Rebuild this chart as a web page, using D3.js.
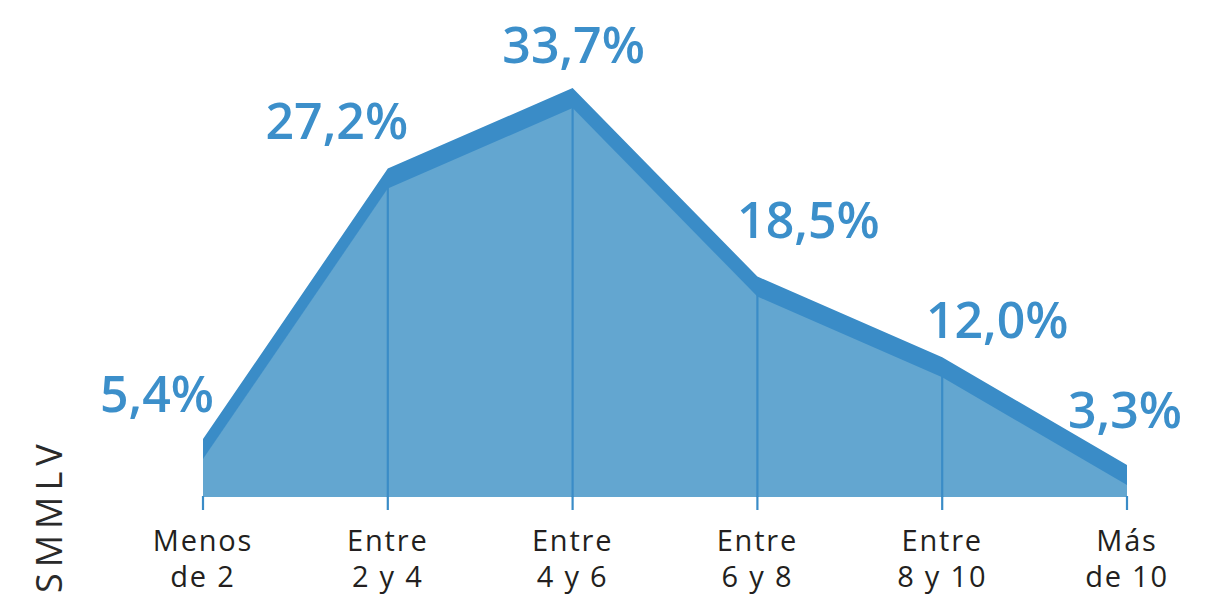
<!DOCTYPE html>
<html>
<head>
<meta charset="utf-8">
<script src="https://cdn.jsdelivr.net/npm/d3@7"></script>
<style>
  html, body { margin: 0; padding: 0; background: #ffffff; }
  svg { display: block; }
</style>
</head>
<body>
<svg id="chart" width="1225" height="596"></svg>
<script>
// ---- data ----
const categories = ["Menos de 2", "Entre 2 y 4", "Entre 4 y 6", "Entre 6 y 8", "Entre 8 y 10", "Más de 10"];
const categoryLines = [["Menos", "de 2"], ["Entre", "2 y 4"], ["Entre", "4 y 6"], ["Entre", "6 y 8"], ["Entre", "8 y 10"], ["Más", "de 10"]];
const values = [5.4, 27.2, 33.7, 18.5, 12.0, 3.3];
const valueLabels = ["5,4%", "27,2%", "33,7%", "18,5%", "12,0%", "3,3%"];
const axisTitle = "SMMLV";

// ---- layout ----
const baselineY = 497;
const bandThickness = 20;
const labelDx = [-46, -51, 1, 51, 55, -2];
const labelDy = [-27, -30, -25, -39, -19, -37];

const svg = d3.select("#chart");

const x = d3.scalePoint().domain(categories).range([203, 1127]);
const y = d3.scaleLinear().domain([0, 33.7]).range([506, 88]);

const data = categories.map((c, i) => ({ c, v: values[i], i }));

const lightBlue = "#63a6d0";
const darkBlue = "#3a8cc7";
const labelBlue = "#3c8fca";

// fill area
const fillArea = d3.area()
  .x(d => x(d.c))
  .y0(baselineY)
  .y1(d => y(d.v) + bandThickness - 1);
svg.append("path").datum(data).attr("d", fillArea).attr("fill", lightBlue);

// vertical drop lines (inner)
svg.selectAll("line.drop").data(data.slice(1, -1)).join("line")
  .attr("class", "drop")
  .attr("x1", d => x(d.c)).attr("x2", d => x(d.c))
  .attr("y1", d => y(d.v) + bandThickness - 2)
  .attr("y2", baselineY)
  .attr("stroke", darkBlue).attr("stroke-width", 2.2);

// ticks below baseline
svg.selectAll("line.tick").data(data).join("line")
  .attr("class", "tick")
  .attr("x1", d => x(d.c)).attr("x2", d => x(d.c))
  .attr("y1", baselineY - 1).attr("y2", 510)
  .attr("stroke", darkBlue).attr("stroke-width", 2.2);

// top band
const band = d3.area()
  .x(d => x(d.c))
  .y0(d => y(d.v) + bandThickness)
  .y1(d => y(d.v));
svg.append("path").datum(data).attr("d", band).attr("fill", darkBlue);

// value labels
svg.selectAll("text.val").data(data).join("text")
  .attr("class", "val")
  .attr("x", d => x(d.c) + labelDx[d.i])
  .attr("y", d => y(d.v) + labelDy[d.i])
  .attr("text-anchor", "middle")
  .attr("font-family", "'Open Sans', 'Noto Sans', sans-serif")
  .attr("font-weight", 600)
  .attr("font-size", 50)
  .attr("fill", labelBlue)
  .text(d => valueLabels[d.i]);

// category labels (one text per line)
data.forEach(d => {
  categoryLines[d.i].forEach((t, j) => {
    svg.append("text")
      .attr("class", "cat")
      .attr("x", x(d.c))
      .attr("y", 551 + j * 36)
      .attr("text-anchor", "middle")
      .attr("font-family", "'Open Sans', 'Noto Sans', sans-serif")
      .attr("font-size", 29)
      .attr("letter-spacing", 1.8)
      .attr("fill", "#231f20")
      .text(t);
  });
});

// axis title
svg.append("text")
  .attr("transform", "translate(62,593) rotate(-90)")
  .attr("font-family", "'Open Sans', 'Noto Sans', sans-serif")
  .attr("font-weight", 400)
  .attr("font-size", 36)
  .attr("letter-spacing", 6)
  .attr("fill", "#2a2a2a")
  .text(axisTitle);
</script>
</body>
</html>
